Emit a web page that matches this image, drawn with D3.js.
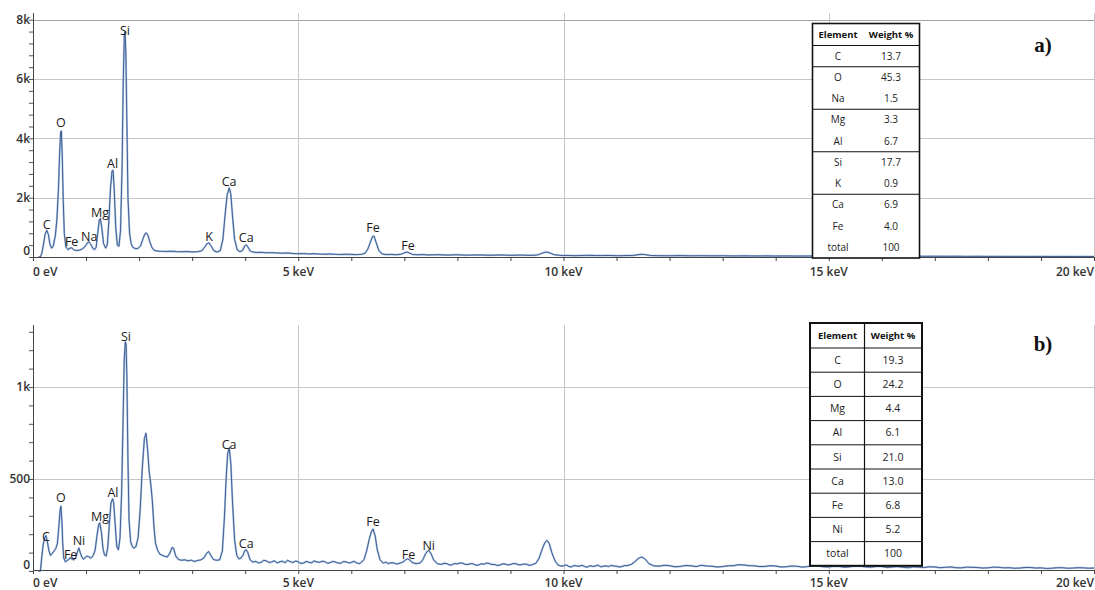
<!DOCTYPE html>
<html><head><meta charset="utf-8">
<script src="https://cdn.jsdelivr.net/npm/d3@7"></script>
<style>body{margin:0;background:#fff}svg{display:block}</style>
</head><body><svg id="c" width="1095" height="590"></svg>
<script>
// ---------- DATA ----------
const xMajorTicks = [0, 5, 10, 15, 20];
const xTickLabels = ["0 eV", "5 keV", "10 keV", "15 keV", "20 keV"];
const xMinorTicks = [0,1,2,3,4,5,6,7,8,9,10,11,12,13,14,15,16,17,18,19,20];

const yTicksA = [0, 2000, 4000, 6000, 8000];
const yTickLabelsA = ["0", "2k", "4k", "6k", "8k"];
const yTicksB = [0, 500, 1000];
const yTickLabelsB = ["0", "500", "1k"];

// spectrum a) : [energy keV, counts]
const spectrumA = [
[0.10,0],[0.14,0],[0.17,150],[0.20,450],[0.23,780],[0.26,900],[0.29,760],[0.32,430],[0.35,300],[0.38,360],[0.42,700],[0.45,1250],[0.48,2300],[0.50,3400],[0.52,4200],[0.535,4250],[0.55,3500],[0.57,1900],[0.59,800],[0.62,340],[0.66,250],[0.70,300],[0.73,310],[0.77,240],[0.82,220],[0.87,230],[0.92,260],[0.97,330],[1.01,430],[1.05,520],[1.09,420],[1.13,290],[1.16,250],[1.19,330],[1.22,800],[1.25,1250],[1.27,1300],[1.30,950],[1.33,450],[1.37,300],[1.40,420],[1.43,1200],[1.46,2300],[1.49,2900],[1.51,2920],[1.53,2300],[1.56,1000],[1.59,400],[1.62,360],[1.65,900],[1.68,3100],[1.70,5800],[1.72,7400],[1.735,7600],[1.75,6900],[1.77,4500],[1.79,2000],[1.82,800],[1.85,450],[1.88,330],[1.93,280],[1.98,290],[2.03,380],[2.07,600],[2.11,780],[2.14,810],[2.17,720],[2.20,520],[2.24,330],[2.28,230],[2.33,205],[2.4,195],[2.5,188],[2.6,196],[2.7,182],[2.8,176],[2.9,186],[3.0,172],[3.1,180],[3.18,210],[3.23,320],[3.28,450],[3.32,475],[3.36,360],[3.41,210],[3.47,170],[3.53,210],[3.58,600],[3.62,1400],[3.66,2100],[3.70,2330],[3.73,2100],[3.76,1400],[3.80,600],[3.85,240],[3.90,180],[3.95,220],[3.99,370],[4.02,410],[4.05,340],[4.10,190],
[4.2,150],[4.3,158],[4.4,141],[4.5,147],[4.6,135],[4.7,129],[4.8,138],[4.9,118],[5.0,110],[5.1,116],[5.2,104],[5.3,112],[5.4,98],[5.5,95],[5.6,103],[5.7,90],[5.8,86],[5.9,94],[6.0,88],[6.1,80],[6.2,92],
[6.26,130],[6.31,260],[6.36,500],[6.40,690],[6.43,700],[6.47,480],[6.52,220],[6.58,105],[6.65,82],[6.75,88],[6.85,76],[6.93,90],[6.99,130],[7.04,168],[7.09,140],[7.15,88],
[7.25,75],[7.35,82],[7.45,70],[7.55,74],[7.65,78],[7.75,69],[7.85,66],[7.95,73],[8.05,72],[8.15,63],[8.25,64],[8.35,70],[8.45,68],[8.55,61],[8.65,60],[8.75,67],[8.85,66],[8.95,59],[9.05,58],[9.15,64],[9.25,62],[9.35,56],[9.45,57],
[9.53,80],[9.60,130],[9.67,168],[9.74,140],[9.82,80],[9.92,56],
[10.0,50],[10.1,52],[10.2,46],[10.3,48],[10.4,53],[10.5,55],[10.6,49],[10.7,47],[10.8,51],[10.9,50],[11.0,44],[11.1,45],[11.2,50],[11.3,49],[11.38,70],[11.46,92],[11.54,80],[11.64,52],
[11.8,45],[12.0,42],[12.2,47],[12.4,40],[12.6,44],[12.8,38],[13.0,42],[13.2,36],[13.4,40],[13.6,35],[13.8,38],[14.0,33],[14.2,36],[14.4,31],[14.6,34],[14.8,30],[15.0,33],[15.2,28],[15.4,31],[15.6,27],[15.8,29],[16.0,25],[16.2,28],[16.4,24],[16.6,26],[16.8,23],[17.0,25],[17.2,22],[17.4,24],[17.6,21],[17.8,22],[18.0,20],[18.2,21],[18.4,19],[18.6,20],[18.8,18],[19.0,19],[19.2,17],[19.4,18],[19.6,16],[19.8,17],[20.0,15]
];

// spectrum b) : [energy keV, counts]
const spectrumB = [
[0.10,0],[0.14,0],[0.16,60],[0.19,140],[0.22,180],[0.245,192],[0.27,160],[0.30,110],[0.33,85],[0.36,95],[0.40,110],[0.43,122],[0.46,150],[0.49,250],[0.51,330],[0.527,352],[0.545,270],[0.56,150],[0.58,70],[0.61,50],[0.64,56],[0.67,62],[0.70,72],[0.73,66],[0.77,60],[0.81,76],[0.84,106],[0.866,125],[0.89,100],[0.92,76],[0.95,64],[0.98,72],[1.01,81],[1.05,78],[1.09,70],[1.13,82],[1.17,112],[1.21,200],[1.24,255],[1.26,262],[1.29,210],[1.32,120],[1.35,86],[1.38,82],[1.41,130],[1.44,260],[1.47,370],[1.50,392],[1.52,372],[1.55,250],[1.58,130],[1.61,116],[1.64,180],[1.67,420],[1.70,850],[1.72,1150],[1.74,1245],[1.755,1232],[1.77,1050],[1.79,600],[1.81,280],[1.84,160],[1.87,135],[1.90,124],[1.94,132],[1.98,180],[2.02,330],[2.06,560],[2.10,720],[2.13,748],[2.16,662],[2.19,540],[2.22,472],[2.25,380],[2.28,240],[2.31,150],[2.35,112],[2.39,92],[2.43,86],[2.48,80],[2.53,76],[2.58,96],[2.62,128],[2.65,124],[2.69,82],[2.74,63],[2.80,58],[2.86,61],[2.92,55],[2.98,59],[3.04,52],[3.10,57],[3.16,60],[3.22,70],[3.27,95],[3.31,106],[3.35,86],[3.40,63],[3.46,58],[3.52,61],[3.57,110],[3.61,300],[3.64,500],[3.67,640],[3.70,670],[3.73,580],[3.76,380],[3.80,170],[3.84,86],[3.88,66],[3.92,70],[3.96,86],[3.99,110],[4.02,116],[4.05,100],[4.09,62],[4.14,49],
[4.2,52],[4.25,44],[4.3,47],[4.35,58],[4.4,55],[4.45,46],[4.5,49],[4.55,56],[4.6,44],[4.65,50],[4.7,53],[4.75,45],[4.8,58],[4.85,51],[4.9,46],[4.95,54],[5.0,50],[5.05,41],[5.1,43],[5.15,52],[5.2,48],[5.25,44],[5.3,55],[5.35,49],[5.4,47],[5.45,53],[5.5,51],[5.55,42],[5.6,45],[5.65,52],[5.7,49],[5.75,43],[5.8,42],[5.85,51],[5.9,50],[5.95,44],[6.0,46],[6.05,53],[6.1,44],[6.15,40],[6.18,45],
[6.24,62],[6.29,110],[6.34,175],[6.38,215],[6.41,228],[6.45,190],[6.49,115],[6.54,62],[6.60,43],[6.65,48],[6.7,40],[6.75,45],[6.8,44],[6.85,38],[6.9,41],[6.97,48],[7.02,60],[7.06,66],[7.10,60],[7.15,46],[7.22,40],[7.30,44],[7.35,62],[7.39,88],[7.43,106],[7.46,112],[7.50,96],[7.55,62],[7.62,40],
[7.7,36],[7.75,42],[7.8,40],[7.85,33],[7.9,34],[7.95,41],[8.0,38],[8.05,44],[8.1,42],[8.15,36],[8.2,35],[8.25,40],[8.3,39],[8.35,31],[8.4,33],[8.45,39],[8.5,37],[8.55,43],[8.6,41],[8.65,35],[8.7,36],[8.75,30],[8.8,32],[8.85,39],[8.9,38],[8.95,33],[9.0,35],[9.05,41],[9.1,40],[9.15,34],[9.2,34],[9.25,38],[9.3,37],[9.35,31],[9.4,33],
[9.48,42],[9.54,70],[9.60,120],[9.65,155],[9.69,166],[9.73,150],[9.78,100],[9.84,55],[9.90,32],
[9.95,27],[10.0,28],[10.05,33],[10.1,25],[10.15,22],[10.2,30],[10.25,27],[10.3,26],[10.35,31],[10.4,24],[10.45,21],[10.5,29],[10.55,25],[10.6,27],[10.65,32],[10.7,23],[10.75,26],[10.8,28],[10.85,24],[10.9,31],[10.95,27],[11.0,26],[11.05,22],[11.1,24],[11.15,30],[11.2,29],
[11.28,36],[11.35,52],[11.42,70],[11.48,76],[11.54,64],[11.61,40],[11.7,28],
[11.8,26],[11.9,31],[12.0,29],[12.1,23],[12.2,25],[12.3,30],[12.4,28],[12.5,24],[12.6,31],[12.7,27],[12.8,26],[12.9,22],[13.0,24],[13.1,28],[13.2,29],[13.3,34],[13.4,33],[13.5,29],[13.6,28],[13.7,24],[13.8,25],[13.9,29],[14.0,27],[14.1,22],[14.2,23],[14.3,27],[14.4,26],[14.5,21],[14.6,24],[14.7,28],[14.8,27],[14.9,23],[15.0,22],[15.1,26],[15.2,25],[15.3,20],[15.4,23],[15.5,27],[15.6,26],[15.7,22],[15.8,21],[15.9,25],[16.0,24],[16.1,19],[16.2,22],[16.3,24],[16.4,20],[16.5,18],[16.6,23],[16.7,21],[16.8,19],[16.9,23],[17.0,22],[17.1,18],[17.2,20],[17.3,22],[17.4,18],[17.5,17],[17.6,21],[17.7,20],[17.8,19],[17.9,16],[18.0,17],[18.1,21],[18.2,20],[18.3,17],[18.4,18],[18.5,15],[18.6,16],[18.7,19],[18.8,19],[18.9,16],[19.0,17],[19.1,14],[19.2,15],[19.3,18],[19.4,18],[19.5,15],[19.6,16],[19.7,18],[19.8,17],[19.9,15],[20.0,16]
];

// peak labels: [element, energy keV, counts at label centre]
const peakLabelsA = [["C",0.258,1095],["O",0.527,4516],["Fe",0.729,505],["Na",1.06,674],["Mg",1.262,1483],["Al",1.50,3134],["Si",1.733,7617],["K",3.32,674],["Ca",3.697,2528],["Ca",4.02,640],["Fe",6.41,977],["Fe",7.07,371]];
const peakLabelsB = [["C",0.245,185],["O",0.527,397],["Fe",0.71,87],["Ni",0.866,165],["Mg",1.262,293],["Al",1.508,426],["Si",1.751,1272],["Ca",3.697,685],["Ca",4.02,147],["Fe",6.41,268],["Fe",7.08,87],["Ni",7.46,136]];

// tables
const tableHeader = ["Element", "Weight %"];
const elementsA = ["C","O","Na","Mg","Al","Si","K","Ca","Fe","total"];
const weightsA = ["13.7","45.3","1.5","3.3","6.7","17.7","0.9","6.9","4.0","100"];
const elementsB = ["C","O","Mg","Al","Si","Ca","Fe","Ni","total"];
const weightsB = ["19.3","24.2","4.4","6.1","21.0","13.0","6.8","5.2","100"];
const panelTitles = ["a)", "b)"];

// ---------- DRAWING ----------
const svg = d3.select("#c");
const FONT = "'Open Sans', 'Noto Sans', sans-serif";
const x = d3.scaleLinear().domain([0, 20]).range([33, 1094]);

function drawPanel(p) {
  const g = svg.append("g");
  const y = d3.scaleLinear().domain([0, p.yRef]).range([p.y0, p.yRefPx]);
  const yMaxVal = y.invert(p.top);
  g.selectAll(".hg").data(p.yTicks.filter(d => d > 0)).enter().append("line")
    .attr("x1", x(0)).attr("x2", x(20))
    .attr("y1", d => Math.round(y(d)) + 0.5).attr("y2", d => Math.round(y(d)) + 0.5)
    .attr("stroke", (d, i, a) => (i === a.length - 1 && p.darkTop) ? "#a0a0a0" : "#c6c6c6").attr("stroke-width", 1);
  g.selectAll(".vg").data(xMajorTicks.filter(d => d > 0)).enter().append("line")
    .attr("x1", d => Math.round(x(d)) + 0.5).attr("x2", d => Math.round(x(d)) + 0.5)
    .attr("y1", p.top).attr("y2", p.axisY)
    .attr("stroke", "#c6c6c6").attr("stroke-width", 1);

  const line = d3.line().x(d => x(d[0])).y(d => y(d[1]));
  g.append("path").datum(p.data).attr("d", line).attr("fill", "none")
    .attr("stroke", "#a9c3e4").attr("stroke-width", 2).attr("stroke-linejoin", "round");
  g.append("path").datum(p.data).attr("d", line).attr("fill", "none")
    .attr("stroke", "#27457a").attr("stroke-width", 0.8).attr("stroke-linejoin", "round");

  const xa = d3.axisBottom(x).tickValues(xMinorTicks).tickSize(4).tickFormat("");
  const xg = g.append("g").attr("transform", `translate(0,${p.axisY})`).call(xa);
  xg.select(".domain").attr("stroke", "#444");
  xg.selectAll(".tick line").attr("stroke", "#444");
  g.selectAll(".xl").data(xMajorTicks).enter().append("text")
    .attr("x", d => x(d)).attr("y", p.xLabelY)
    .attr("text-anchor", (d, i) => i === 0 ? "start" : (i === xMajorTicks.length - 1 ? "end" : "middle"))
    .attr("font-family", FONT).attr("font-size", 12).attr("font-weight", 600).attr("fill", "#333")
    .text((d, i) => xTickLabels[i]);

  const minor = d3.range(0, p.yTicks[p.yTicks.length - 1] + p.minorStep / 2, p.minorStep);
  const extraMinor = d3.range(p.yTicks[p.yTicks.length - 1] + p.minorStep, yMaxVal, p.minorStep);
  const ya = d3.axisLeft(y).tickValues(p.extendMinor ? minor.concat(extraMinor) : minor).tickSize(4).tickFormat("");
  const yg = g.append("g").attr("transform", `translate(${x(0)},0)`).call(ya);
  yg.select(".domain").remove();
  yg.selectAll(".tick line").attr("stroke", "#555");
  g.append("line").attr("x1", x(0) + 0.5).attr("x2", x(0) + 0.5).attr("y1", p.top).attr("y2", p.axisY)
    .attr("stroke", "#444");
  g.selectAll(".yl").data(p.yTicks).enter().append("text")
    .attr("x", 30).attr("y", d => y(d) - (d === 0 ? 6 : 0))
    .attr("dy", "0.35em").attr("text-anchor", "end")
    .attr("font-family", FONT).attr("font-size", 12).attr("font-weight", 600).attr("fill", "#333")
    .text((d, i) => p.yLabels[i]);

  g.selectAll(".pl").data(p.labels).enter().append("text")
    .attr("x", d => x(d[1])).attr("y", d => y(d[2])).attr("dy", "0.35em")
    .attr("text-anchor", "middle").attr("font-family", FONT).attr("font-size", 12.5)
    .attr("fill", "#1a1a1a").text(d => d[0]);

  svg.append("text").attr("x", 1043).attr("y", p.titleY).attr("text-anchor", "middle")
    .attr("font-family", "'Liberation Serif', 'DejaVu Serif', serif").attr("font-weight", "bold")
    .attr("font-size", 21).attr("fill", "#111").text(p.title);
}

function drawTable(t) {
  const g = svg.append("g");
  const n = t.elements.length;
  const bottom = t.top + t.headerH + n * t.rowH;
  g.append("rect").attr("x", t.x0).attr("y", t.top).attr("width", t.x1 - t.x0).attr("height", bottom - t.top)
    .attr("fill", "#fff").attr("stroke", "none");
  g.append("line").attr("x1", t.x0).attr("x2", t.x1).attr("y1", t.top + t.headerH).attr("y2", t.top + t.headerH)
    .attr("stroke", "#111").attr("stroke-width", 1.2);
  g.selectAll(".rs").data(t.elements.slice(0, n - 1).map((d, i) => i).filter(i => t.separators === "all" || t.separators.includes(i)))
    .enter().append("line")
    .attr("x1", t.x0).attr("x2", t.x1)
    .attr("y1", i => t.top + t.headerH + (i + 1) * t.rowH).attr("y2", i => t.top + t.headerH + (i + 1) * t.rowH)
    .attr("stroke", "#111").attr("stroke-width", 1);
  if (t.divider) {
    g.append("line").attr("x1", t.divider).attr("x2", t.divider).attr("y1", t.top).attr("y2", bottom)
      .attr("stroke", "#111").attr("stroke-width", 1.2);
  }
  g.append("rect").attr("x", t.x0).attr("y", t.top).attr("width", t.x1 - t.x0).attr("height", bottom - t.top)
    .attr("fill", "none").attr("stroke", "#111").attr("stroke-width", t.border);
  g.selectAll(".ht").data(tableHeader).enter().append("text")
    .attr("x", (d, i) => t.cx[i]).attr("y", t.top + t.headerH / 2).attr("dy", "0.35em")
    .attr("text-anchor", "middle").attr("font-family", FONT).attr("font-weight", "bold")
    .attr("font-size", t.hfs).attr("fill", "#111").text(d => d);
  const rows = t.elements.map((e, i) => [e, t.weights[i]]);
  rows.forEach((r, i) => {
    r.forEach((v, j) => {
      g.append("text").attr("x", t.cx[j]).attr("y", t.top + t.headerH + (i + 0.5) * t.rowH).attr("dy", "0.35em")
        .attr("text-anchor", "middle").attr("font-family", FONT).attr("font-size", t.fs)
        .attr("fill", "#222").text(v);
    });
  });
}

drawPanel({data: spectrumA, yRef: 8000, y0: 257, yRefPx: 19.7, top: 13, axisY: 257,
  yTicks: yTicksA, yLabels: yTickLabelsA, minorStep: 400, extendMinor: false, darkTop: true,
  labels: peakLabelsA, xLabelY: 276, title: panelTitles[0], titleY: 52});
drawPanel({data: spectrumB, yRef: 1000, y0: 571, yRefPx: 387, top: 325, axisY: 570,
  yTicks: yTicksB, yLabels: yTickLabelsB, minorStep: 100, extendMinor: true, darkTop: false,
  labels: peakLabelsB, xLabelY: 586.5, title: panelTitles[1], titleY: 351});

drawTable({x0: 812.5, x1: 919.5, top: 23.5, headerH: 22, rowH: 21.25, elements: elementsA, weights: weightsA,
  separators: [0, 2, 4, 6], divider: null, cx: [838, 891], fs: 10, hfs: 9.5, border: 1.6});
drawTable({x0: 810, x1: 922, top: 323, headerH: 25, rowH: 24.2, elements: elementsB, weights: weightsB,
  separators: "all", divider: 864.5, cx: [837.5, 893], fs: 10.5, hfs: 9.5, border: 2});
</script>
</body></html>
